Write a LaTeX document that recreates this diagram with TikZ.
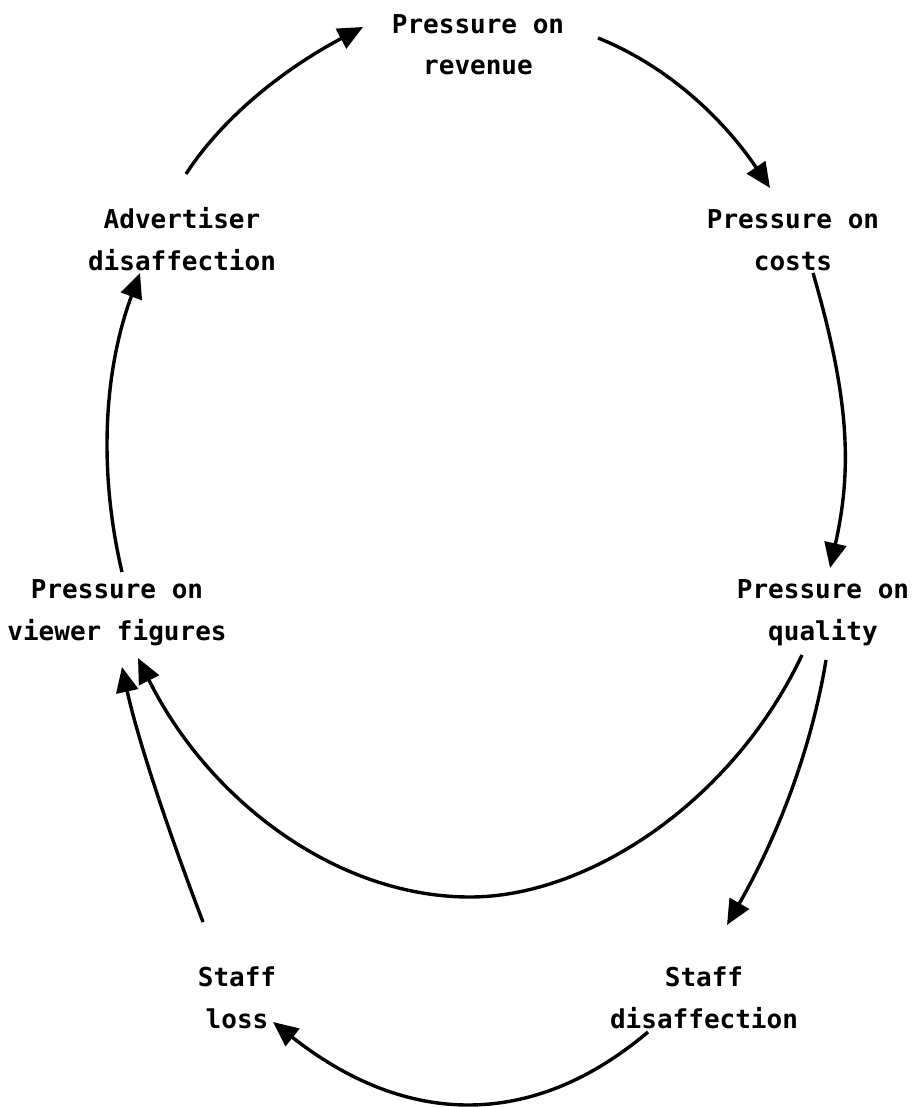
\documentclass[tikz,border=0pt]{standalone}
\usepackage{fontspec}
\newfontfamily\lblfont{DejaVu Sans Mono}
\usetikzlibrary{arrows.meta}
\begin{document}
\begin{tikzpicture}[x=1pt,y=-1pt,
  lbl/.style={font=\lblfont\bfseries\fontsize{26}{41.5}\selectfont, align=center, anchor=base, inner sep=0pt},
  conn/.style={line width=3.4pt, -{Triangle[length=25pt,width=22pt]}}]
\useasboundingbox (0,0) rectangle (912,1107);
% labels (anchor = baseline of the last line)
\node[lbl] (rev)  at (478,75)   {Pressure on\\revenue};
\node[lbl] (adv)  at (182,270)  {Advertiser\\disaffection};
\node[lbl] (cost) at (793,270)  {Pressure on\\costs};
\node[lbl] (view) at (117,640)  {Pressure on\\viewer figures};
\node[lbl] (qual) at (823,640)  {Pressure on\\quality};
\node[lbl] (loss) at (237,1028) {Staff\\loss};
\node[lbl] (sdis) at (704,1028) {Staff\\disaffection};
% connector end points
\coordinate (advOut)  at (186,174);
\coordinate (revIn)   at (363,27);
\coordinate (revOut)  at (598,38);
\coordinate (costIn)  at (770,188);
\coordinate (costOut) at (813,273);
\coordinate (qualIn)  at (830,568);
\coordinate (qualOutA) at (802,655);
\coordinate (arcBot)  at (470,897);
\coordinate (viewInA) at (138,658);
\coordinate (qualOutB) at (826,660);
\coordinate (sdisIn)  at (727,925);
\coordinate (sdisOut) at (648,1032);
\coordinate (lossIn)  at (273,1022);
\coordinate (lossOut) at (203,922);
\coordinate (viewInB) at (122,667);
\coordinate (viewOut) at (122,572);
\coordinate (advIn)   at (140,273);
% connectors
\draw[conn] (advOut) .. controls (221,120) and (280,71) .. (revIn);
\draw[conn] (revOut) .. controls (663,64) and (720,114) .. (costIn);
\draw[conn] (costOut) .. controls (850,400) and (852,470) .. (qualIn);
\draw[conn] (qualOutA) .. controls (733,801) and (589,897) .. (arcBot)
                       .. controls (337,897) and (209,801) .. (viewInA);
\draw[conn] (qualOutB) .. controls (812,746) and (779,834) .. (sdisIn);
\draw[conn] (sdisOut) .. controls (532,1130) and (406,1127) .. (lossIn);
\draw[conn] (lossOut) .. controls (163,817) and (136,732) .. (viewInB);
\draw[conn] (viewOut) .. controls (98,470) and (104,370) .. (advIn);
\end{tikzpicture}
\end{document}
